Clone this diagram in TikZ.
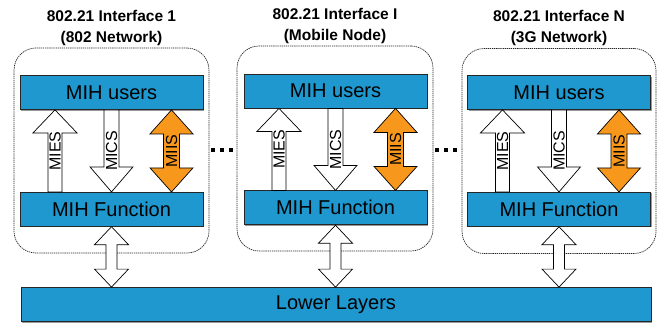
\documentclass[tikz,border=0pt]{standalone}
\usepackage{fontspec}
\setmainfont{Liberation Sans}
\usetikzlibrary{positioning,calc,shadows}

\definecolor{mihblue}{RGB}{30,152,206}
\definecolor{miisorange}{RGB}{247,152,29}

\tikzset{
  layerbox/.style={draw=black!85, line width=0.8pt, fill=mihblue, minimum width=183pt, minimum height=34pt, inner sep=0pt,
    font=\fontsize{20}{24}\selectfont, drop shadow={shadow xshift=1pt, shadow yshift=-1pt, fill=black!40, opacity=1}},
  ifframe/.style={draw=black!85, line width=0.7pt, dash pattern=on 1.3pt off 0.8pt, rounded corners=22pt,
    minimum width=195pt, minimum height=205pt, inner sep=0pt},
  iftitle/.style={align=center, inner sep=0pt, font=\bfseries\fontsize{15.5}{21}\selectfont},
  blockarr/.style={draw=black, line width=0.7pt, fill=white, line join=miter},
  arrlabel/.style={rotate=90, inner sep=0pt, font=\fontsize{16}{19}\selectfont},
}

% up block arrow from MIH Function to MIH users: group, x offset, label
\newcommand{\upblock}[3]{%
  \draw[blockarr] let \p1=($(users#1.south)+(#2,0)$), \p2=($(func#1.north)+(#2,0)$) in
    (\p1) -- ++(22,23) -- ++(-15,0) -- (\x1+7pt,\y2) -- (\x1-7pt,\y2)
    -- (\x1-7pt,\y1-23pt) -- ++(-15,0) -- cycle
    ($(\p1)!.5!(\p2)$) node[arrlabel] (#3#1) {#3};}

% down block arrow from MIH users to MIH Function: group, x offset, label
\newcommand{\downblock}[3]{%
  \draw[blockarr] let \p1=($(func#1.north)+(#2,0)$), \p2=($(users#1.south)+(#2,0)$) in
    (\p1) -- ++(21.5,-25) -- ++(-14,0) -- (\x1+7.5pt,\y2) -- (\x1-7.5pt,\y2)
    -- (\x1-7.5pt,\y1+25pt) -- ++(-14,0) -- cycle
    ($(\p1)!.5!(\p2)$) node[arrlabel] (#3#1) {#3};}

% double block arrow: top tip, bottom tip, head half width, shaft half width, head length
\newcommand{\dblblock}[6][]{%
  \draw[blockarr,#1] let \p1=#2, \p2=#3 in
    (\p1) -- ++(#4,#6) -- ++(#5-#4,0) -- (\x1+#5pt,\y2+#6pt) -- ++(#4-#5,0)
    -- (\p2) -- ++(-#4,-#6) -- ++(#4-#5,0) -- (\x1-#5pt,\y1-#6pt) -- ++(#5-#4,0) -- cycle;}

\begin{document}
\begin{tikzpicture}[x=1pt, y=-1pt]
\useasboundingbox (0,0) rectangle (661,324);

% interface frames and titles
\node[ifframe] (frame1) at (111.5,150.5) {};
\node[ifframe, minimum width=196pt] (frame2) at (335,148.5) {};
\node[ifframe, minimum width=194pt] (frame3) at (559,151) {};

\node[iftitle, above=2pt of frame1] (title1) {802.21 Interface 1\\(802 Network)};
\node[iftitle, above=2pt of frame2] (title2) {802.21 Interface I\\(Mobile Node)};
\node[iftitle, above=2pt of frame3] (title3) {802.21 Interface N\\(3G Network)};

% MIH layers
\node[layerbox] (users1) at (111.5,92.5) {MIH users};
\node[layerbox, below=82pt of users1] (func1) {MIH Function};
\node[layerbox] (users2) at (335.5,91) {MIH users};
\node[layerbox, below=82pt of users2] (func2) {MIH Function};
\node[layerbox] (users3) at (559,92.5) {MIH users};
\node[layerbox, below=82pt of users3] (func3) {MIH Function};

\node[layerbox, minimum width=630pt] (lower) at (336,304.5) {Lower Layers};

% service access arrows
\foreach \g in {1,2,3} {
  \upblock{\g}{-56.5}{MIES}
  \downblock{\g}{0}{MICS}
  \dblblock[fill=miisorange]{($(users\g.south)+(60,0)$)}{($(func\g.north)+(60,0)$)}{21.5}{8}{24}
  \node[arrlabel] (MIIS\g) at ($(users\g.south)!.5!(func\g.north)+(60,0)$) {MIIS};
  \dblblock{(func\g.south)}{(func\g.south |- lower.north)}{17}{5.5}{18}
}

% dots between interfaces
\foreach \x in {213,222,231,437,446,455}
  \fill (\x-1.6,148.4) rectangle ++(3.2,3.2);

\end{tikzpicture}
\end{document}
